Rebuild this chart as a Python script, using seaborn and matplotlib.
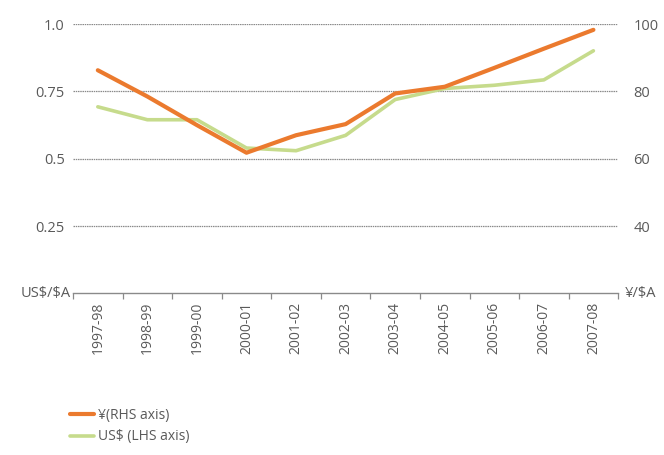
import numpy as np
import pandas as pd
import matplotlib
matplotlib.use("Agg")
import matplotlib.pyplot as plt
from matplotlib.ticker import FixedLocator
from matplotlib.lines import Line2D
import seaborn as sns

# Financial years on the horizontal axis
years = ["1997-98", "1998-99", "1999-00", "2000-01", "2001-02", "2002-03",
         "2003-04", "2004-05", "2005-06", "2006-07", "2007-08"]

# Yen per Australian dollar (right-hand axis)
yen_per_aud = [86.3, 78.5, 70.0, 61.8, 67.0, 70.3, 79.4, 81.4, 87.0, 92.7, 98.3]

# US dollars per Australian dollar (left-hand axis)
usd_per_aud = [0.693, 0.645, 0.645, 0.540, 0.530, 0.587, 0.720, 0.761, 0.773, 0.793, 0.901]

left_ticks = [0.25, 0.5, 0.75, 1.0]
left_labels = ["0.25", "0.5", "0.75", "1.0"]
right_ticks = [40, 60, 80, 100]
right_labels = ["40", "60", "80", "100"]

ORANGE = "#EB7A2E"
GREEN = "#C6DB8C"
TEXT = "#5a5a5a"
GRID = "#8a8a8a"

sns.set_theme(style="white")
plt.rcParams["font.family"] = ["Open Sans", "DejaVu Sans"]

df = pd.DataFrame({
    "pos": np.arange(len(years)),
    "year": years,
    "usd": usd_per_aud,
    "yen": yen_per_aud,
})

fig = plt.figure(figsize=(6.64, 4.55), dpi=100)
ax = fig.add_axes([0.110, 0.355, 0.821, 0.592])
ax2 = ax.twinx()

sns.lineplot(data=df, x="pos", y="usd", ax=ax, color=GREEN, linewidth=2.6,
             zorder=3)
sns.lineplot(data=df, x="pos", y="yen", ax=ax2, color=ORANGE, linewidth=3.0,
             zorder=4)

ax.set_xlim(-0.5, len(years) - 0.5)
ax.set_ylim(0, 1.0)
# right scale: 20 at the base line, 100 at the top
ax2.set_ylim(20, 100)

# horizontal reference lines
for t in left_ticks:
    ax.axhline(t, color=GRID, linewidth=0.9, linestyle=(0, (1.2, 0.6)), zorder=1)

ax.set_yticks(left_ticks)
ax.set_yticklabels(left_labels)
ax2.set_yticks(right_ticks)
ax2.set_yticklabels(right_labels)

ax.tick_params(axis="y", length=0, pad=6, labelsize=10.5, labelcolor=TEXT)
ax2.tick_params(axis="y", length=0, pad=11, labelsize=10.5, labelcolor=TEXT)

# category labels centred on each year, tick marks between years
ax.xaxis.set_major_locator(FixedLocator(df["pos"].tolist()))
ax.set_xticklabels(years, rotation=90)
ax.xaxis.set_minor_locator(FixedLocator(list(np.arange(len(years) + 1) - 0.5)))
ax.tick_params(axis="x", which="major", length=0, pad=6, labelsize=10,
               labelcolor=TEXT)
ax.tick_params(axis="x", which="minor", length=4, width=0.9, color=GRID,
               direction="out", bottom=True)

ax.set_xlabel("")
ax.set_ylabel("")
ax2.set_ylabel("")

for a in (ax, ax2):
    for side in ("top", "left", "right", "bottom"):
        a.spines[side].set_visible(False)
ax.spines["bottom"].set_visible(True)
ax.spines["bottom"].set_color(GRID)
ax.spines["bottom"].set_linewidth(1.0)

# unit labels at the base of each axis
ax.text(-0.004, 0.0, "US\\$/\\$A", transform=ax.transAxes, ha="right",
        va="center", fontsize=10.5, color=TEXT)
ax.text(1.012, 0.0, "¥/\\$A", transform=ax.transAxes, ha="left", va="center",
        fontsize=10.5, color=TEXT)

handles = [
    Line2D([], [], color=ORANGE, linewidth=3.0),
    Line2D([], [], color=GREEN, linewidth=2.6),
]
fig.legend(handles, ["¥(RHS axis)", "US\\$ (LHS axis)"], loc="upper left",
           bbox_to_anchor=(0.106, 0.103), frameon=False, fontsize=10,
           handlelength=1.7, handletextpad=0.3, labelspacing=0.45,
           labelcolor=TEXT, borderaxespad=0, borderpad=0)

fig.savefig("out.png", dpi=100, facecolor="white")
